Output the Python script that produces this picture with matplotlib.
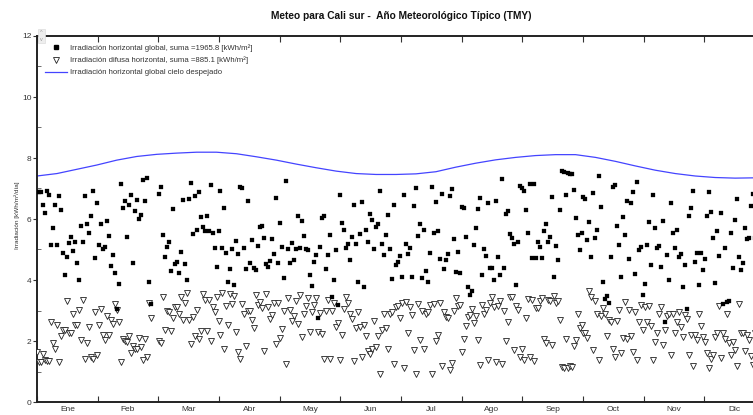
import numpy as np
import matplotlib
matplotlib.use("Agg")
import matplotlib.pyplot as plt
from matplotlib.lines import Line2D
from matplotlib.patches import Rectangle

nan = np.nan

title = "Meteo para Cali sur -  Año Meteorológico Típico (TMY)"
ylabel = "Irradiación [kWh/m²/día]"
months = ["Ene", "Feb", "Mar", "Abr", "May", "Jun", "Jul", "Ago", "Sep", "Oct", "Nov", "Dic"]
label_global = "Irradiación horizontal global, suma =1965.8 [kWh/m²]"
label_diffuse = "Irradiación difusa horizontal, suma =885.1 [kWh/m²]"
label_clear = "Irradiación horizontal global cielo despejado"

# daily global horizontal irradiation (kWh/m2/day), day 0 .. 364
global_daily = [
    6.88, 6.87, 6.87, 6.47, 6.21, 6.93, 6.79, 5.14, 5.72, 6.45,
    5.16, 6.77, 6.28, 4.88, 4.16, 4.74, 5.21, 5.42, 4.94, 5.26,
    4.56, 4.00, 5.77, 5.26, 6.77, 5.83, 5.54, 6.11, 6.92, 4.73,
    6.52, 5.14, 5.85, 5.00, 5.08, 5.95, 5.44, 4.45, 4.81, 4.22,
    3.06, 3.87, 7.16, 6.35, 6.60, 5.42, 6.46, 6.79, 4.55, 6.26,
    6.63, 6.00, 6.13, 7.29, 6.59, 7.34, 3.92, 3.22, nan, nan,
    nan, 6.81, 7.06, 5.49, 4.75, 5.08, 5.26, 4.29, 6.34, 4.53,
    4.59, 4.22, 4.91, 6.63, 4.53, 4.01, 6.66, 7.17, 5.51, 6.76,
    5.64, 6.87, 6.08, 5.75, 5.62, 6.11, 5.62, 7.11, 5.55, 5.04,
    4.41, 5.61, 6.92, 5.04, 6.36, 4.87, 3.92, 4.36, 5.00, 3.82,
    5.29, 4.84, 7.06, 7.00, 5.04, 4.36, 6.58, 4.55, 5.31, 4.40,
    4.34, 5.10, 5.73, 5.77, 5.38, 4.51, 4.44, 4.62, 5.33, 4.84,
    6.70, 4.56, 5.87, 5.07, 4.05, 7.25, 5.03, 4.56, 5.22, 4.64,
    5.03, 6.09, 5.04, 5.95, 5.44, 5.02, 4.97, 4.17, 3.80, 4.59,
    4.82, 2.75, 5.07, 6.02, 6.10, 4.36, 4.81, 5.49, 3.45, 3.99,
    4.98, 3.19, 6.78, 5.87, 5.64, 5.04, 5.18, 4.64, 5.40, 6.47,
    5.18, 3.93, 5.51, 6.56, 3.78, 5.63, 5.25, 6.17, 5.96, 5.02,
    5.73, 5.84, 6.93, 5.17, 4.82, 5.49, 6.14, 5.02, 4.04, 6.47,
    4.50, 4.60, 4.78, 4.10, 6.79, 5.18, 4.86, 5.05, 4.11, 6.41,
    7.01, 5.44, 5.83, 4.05, 5.64, 4.29, 3.95, 4.88, 7.05, 5.53,
    6.56, 5.62, 4.70, 6.83, 4.36, 4.64, 4.84, 6.76, 6.99, 5.34,
    4.27, 4.92, 4.24, 6.40, 6.36, 5.42, 3.78, 3.50, 3.65, 5.14,
    5.70, 6.33, 6.69, 4.15, 5.00, 4.80, 6.51, 4.40, 4.38, 4.00,
    6.58, 4.75, 4.17, 7.32, 4.40, 6.17, 6.25, 5.50, 5.38, 5.18,
    3.82, 5.26, 7.08, 7.02, 6.92, 6.30, 5.53, 7.15, 4.71, 7.15,
    4.71, 5.25, 5.07, 4.71, 5.62, 5.83, 5.24, 5.42, 6.71, 4.11,
    5.11, 4.65, 6.30, 7.59, 7.55, 6.79, 7.50, 7.47, 7.48, 6.95,
    6.02, 5.47, 4.98, 5.55, 6.71, 6.65, 5.31, 5.91, 4.76, 6.85,
    5.38, 5.64, 7.42, 6.39, 3.95, 3.38, 3.49, 3.25, 4.76, 7.06,
    7.12, 5.76, 5.15, 4.09, 6.07, 5.48, 6.60, 4.69, 6.54, 6.90,
    4.19, 7.20, 4.98, 5.07, 3.50, 3.87, 5.16, 5.90, 4.50, 6.79,
    5.71, 5.04, 5.12, 4.44, 5.93, 2.63, 4.82, 4.00, 6.52, 5.53,
    5.04, 5.64, 4.76, 4.84, 3.78, 4.50, 3.06, 6.09, 6.37, 6.92,
    4.58, 4.87, 3.83, 4.87, 4.34, 4.68, 6.10, 6.89, 6.22, 5.38,
    3.89, 5.61, 4.78, 6.20, 3.21, 5.05, 3.27, 3.30, 5.55, 4.38,
    5.96, 6.65, 4.75, 4.33, 4.55, 5.70, 5.33, 5.38, 6.41, 6.82,
    5.37, 4.63, 6.00, 5.50, 6.10,
]

# daily diffuse horizontal irradiation (kWh/m2/day), day 0 .. 364
diffuse_daily = [
    1.64, 1.31, 1.31, 1.59, 1.38, 1.36, 1.36, 2.63, 1.92, 1.75,
    2.54, 1.31, 2.16, 2.35, 2.35, 3.31, 2.27, 2.27, 2.90, 2.54,
    2.54, 3.03, 2.03, 3.34, 1.42, 1.94, 2.46, 1.48, 1.42, 2.95,
    1.53, 2.52, 3.04, 2.21, 2.03, 2.83, 2.21, 2.69, 2.55, 3.21,
    3.03, 2.62, 1.31, 2.07, 1.99, 1.97, 2.16, 1.62, 1.85, 1.75,
    1.74, 2.11, 1.81, 1.39, 2.07, 1.46, 3.26, 2.74, nan, nan,
    nan, 1.99, 1.95, 3.45, 2.35, 2.99, 2.96, 2.33, 2.74, 3.12,
    3.12, 2.90, 3.45, 2.68, 3.24, 3.56, 2.68, 1.89, 2.79, 2.16,
    3.03, 2.06, 2.33, 3.54, 3.34, 2.33, 3.34, 1.99, 3.12, 2.96,
    3.45, 2.65, 2.21, 3.56, 1.73, 3.14, 2.52, 3.54, 3.20, 3.48,
    2.29, 1.63, 1.41, 3.20, 2.89, 1.83, 3.00, 3.00, 2.69, 2.42,
    3.50, 3.18, 3.27, 3.07, 1.68, 3.54, 3.11, 2.73, 2.86, 3.23,
    1.89, 3.26, 2.11, 2.38, 2.98, 1.26, 3.40, 3.02, 2.64, 2.81,
    3.31, 2.57, 3.50, 2.12, 2.88, 3.14, 3.41, 2.30, 2.95, 3.19,
    3.41, 2.30, 2.92, 2.22, 1.41, 2.98, 3.36, 1.42, 2.98, 3.26,
    2.46, 2.60, 1.37, 2.21, 3.04, 3.45, 3.23, 2.89, 2.72, 1.33,
    2.41, 2.96, 2.46, 1.47, 2.54, 2.16, 1.68, 1.56, 1.73, 2.64,
    1.81, 2.16, 0.93, 2.35, 2.90, 2.41, 1.73, 2.90, 2.94, 1.24,
    3.12, 3.15, 2.76, 3.26, 1.10, 3.29, 2.27, 3.12, 2.86, 1.72,
    0.93, 3.20, 2.03, 2.99, 1.73, 2.90, 2.96, 3.18, 0.93, 3.20,
    2.00, 2.19, 3.25, 1.17, 2.94, 2.79, 2.77, 1.04, 1.28, 2.99,
    3.40, 3.15, 3.19, 1.64, 2.06, 2.49, 2.79, 2.85, 3.04, 2.60,
    2.83, 2.03, 1.20, 3.18, 2.87, 3.01, 1.37, 3.25, 3.45, 3.12,
    1.31, 3.14, 3.32, 1.24, 2.99, 1.99, 2.63, 3.45, 3.43, 1.70,
    3.15, 3.01, 1.48, 1.73, 1.39, 2.77, 3.38, 1.48, 3.36, 1.35,
    3.07, 3.07, 3.32, 3.41, 2.05, 1.94, 3.36, 3.31, 1.86, 3.48,
    3.23, 3.30, 2.68, 1.15, 1.13, 2.05, 1.12, 1.17, 1.15, 1.84,
    2.03, 2.87, 2.41, 2.52, 2.27, 2.25, 2.11, 3.64, 3.45, 1.72,
    3.32, 2.90, 1.37, 2.82, 3.07, 2.88, 2.16, 2.68, 2.63, 1.73,
    1.46, 2.66, 3.01, 1.62, 2.10, 3.29, 2.07, 3.03, 2.16, 1.65,
    2.95, 1.37, 2.63, 3.18, 2.35, 3.12, 2.63, 3.14, 2.50, 1.37,
    1.97, 2.27, 2.90, 3.12, 1.86, 2.35, 2.83, 2.90, 1.53, 2.90,
    2.27, 2.63, 2.95, 2.46, 2.14, 2.85, 2.72, 1.53, 2.19, 1.17,
    2.21, 2.03, 2.89, 2.49, 2.14, 1.97, 1.61, 1.10, 1.42, 1.53,
    2.14, 2.25, 3.14, 1.45, 2.27, 2.05, 2.90, 1.92, 1.53, 1.98,
    1.72, 1.17, 3.20, 2.27, 2.27, 1.68, 2.19, 2.03, 1.50, 1.20,
    2.25, 1.81, 2.00, 1.70, 1.90,
]

# clear-sky global horizontal irradiation, read every 10 days
clear_days = [0, 10, 20, 30, 40, 50, 60, 70, 80, 90, 100, 110, 120, 130, 140, 150, 160, 170, 180,
              190, 200, 210, 220, 230, 240, 250, 260, 270, 280, 290, 300, 310, 320, 330, 340, 350, 360, 365]
clear_vals = [7.41, 7.49, 7.63, 7.77, 7.93, 8.05, 8.12, 8.16, 8.19, 8.19, 8.14, 8.04, 7.93, 7.80, 7.68,
              7.57, 7.49, 7.46, 7.46, 7.48, 7.55, 7.70, 7.83, 7.94, 8.02, 8.08, 8.11, 8.11, 8.02, 7.89,
              7.74, 7.60, 7.49, 7.41, 7.36, 7.34, 7.35, 7.36]

plt.rcParams['font.family'] = ['Liberation Sans', 'DejaVu Sans']

W, H = 753, 415
fig = plt.figure(figsize=(W / 100, H / 100), dpi=100)
x0, x1 = 37, 765
y0, y1 = 36, 402
ax = fig.add_axes([x0 / W, 1 - y1 / H, (x1 - x0) / W, (y1 - y0) / H])

n = len(global_daily)
days = np.arange(n)
nd = len(diffuse_daily)

ax.plot(clear_days, clear_vals, color='#4444ff', lw=0.9, zorder=2)
ax.plot(np.arange(nd), diffuse_daily, linestyle='none', marker='v', markersize=4.5,
        markerfacecolor='white', markeredgecolor='#222222', markeredgewidth=0.6, zorder=3)
ax.plot(days, global_daily, linestyle='none', marker='s', markersize=2.4,
        markerfacecolor='black', markeredgecolor='black', markeredgewidth=0.2, zorder=4)

ax.set_xlim(0, 365)
ax.set_ylim(0, 12)

for s in ['left', 'bottom', 'top']:
    ax.spines[s].set_linewidth(1.4)
    ax.spines[s].set_color('#222222')
ax.spines['right'].set_visible(False)

month_len = 365 / 12
ax.set_xticks([month_len * k for k in range(13)])
ax.set_xticklabels([])
ax.set_xticks([month_len * (k + 0.5) for k in range(12)], minor=True)
ax.set_xticklabels(months, minor=True)
ax.tick_params(axis='x', which='major', direction='in', length=4, width=0.8, top=True, bottom=True,
               color='#333333')
ax.tick_params(axis='x', which='minor', length=0, labelsize=6, pad=3, labelcolor='#333333')

ax.set_yticks(np.arange(0, 13, 2))
ax.set_yticks(np.arange(1, 12, 2), minor=True)
ax.tick_params(axis='y', which='major', direction='out', length=3, width=0.8, labelsize=6,
               pad=1, labelcolor='#333333', color='#333333')
ax.tick_params(axis='y', which='minor', direction='in', length=3, width=0.6, color='#555555')

fig.text(17 / W, 1 - 215 / H, ylabel, rotation=90, ha='center', va='center', fontsize=4.6,
         color='#333333')
fig.text(401 / W, 1 - 16 / H, title, ha='center', va='center', fontsize=7.3, fontweight='bold',
         color='#111111')

# small scroll widget at the top-left corner
fig.add_artist(Rectangle((38 / W, 1 - 43 / H), 7 / W, 14 / H, transform=fig.transFigure,
                         facecolor='#eeeeee', edgecolor='#dddddd', lw=0.5))
fig.text(41.5 / W, 1 - 32 / H, '^', ha='center', va='center', fontsize=4, color='#999999')
fig.text(41.5 / W, 1 - 39.5 / H, 'v', ha='center', va='center', fontsize=4, color='#999999')

handles = [
    Line2D([], [], linestyle='none', marker='s', markersize=2.4, markerfacecolor='black',
           markeredgecolor='black'),
    Line2D([], [], linestyle='none', marker='v', markersize=4.5, markerfacecolor='white',
           markeredgecolor='#222222', markeredgewidth=0.6),
    Line2D([], [], color='#4444ff', lw=0.9),
]
leg = ax.legend(handles, [label_global, label_diffuse, label_clear], loc='upper left',
                bbox_to_anchor=(8 / (x1 - x0), 1 - 8 / (y1 - y0)), frameon=False,
                fontsize=5.6, handlelength=2.8, handletextpad=0.4, labelspacing=0.62,
                borderaxespad=0, borderpad=0)
for t in leg.get_texts():
    t.set_color('#333333')

fig.savefig('out.png', dpi=100)
